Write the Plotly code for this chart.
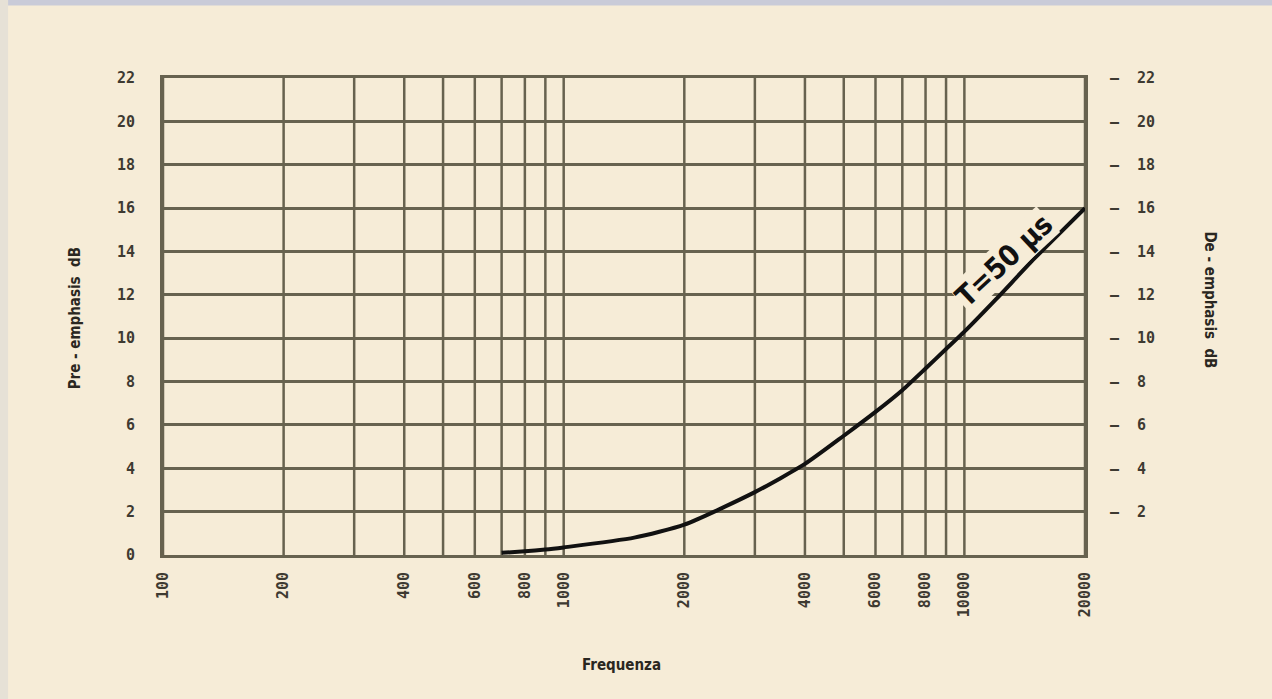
import plotly.graph_objects as go

# Data
freq_hz = [700, 800, 900, 1000, 1500, 2000, 3000, 4000, 5000, 6000, 7000, 8000, 9000, 10000, 12000, 15000, 20000]
pre_emphasis_db = [0.1, 0.17, 0.25, 0.35, 0.8, 1.4, 2.9, 4.2, 5.5, 6.6, 7.6, 8.6, 9.5, 10.3, 11.8, 13.7, 16.0]

x_grid = [100, 200, 300, 400, 500, 600, 700, 800, 900, 1000,
          2000, 3000, 4000, 5000, 6000, 7000, 8000, 9000, 10000, 20000]
x_tick_vals = [100, 200, 400, 600, 800, 1000, 2000, 4000, 6000, 8000, 10000, 20000]
x_tick_text = ["100", "200", "400", "600", "800", "1000", "2000", "4000", "6000", "8000", "10000", "20000"]
y_left_ticks = [0, 2, 4, 6, 8, 10, 12, 14, 16, 18, 20, 22]
y_right_ticks = [2, 4, 6, 8, 10, 12, 14, 16, 18, 20, 22]

BG = "#f6ecd7"
GRID = "#67624f"
INK = "#2a2721"
LABEL = "#3e3a31"
tick_font = dict(family="DejaVu Sans Mono, Liberation Mono, monospace", size=15, color=LABEL)
title_font = dict(family="DejaVu Sans Condensed, DejaVu Sans, sans-serif", size=15, color=INK)

fig = go.Figure()

fig.add_trace(go.Scatter(
    x=freq_hz, y=pre_emphasis_db, mode="lines",
    line=dict(color="#111111", width=4, shape="spline", smoothing=0.6),
    showlegend=False, hoverinfo="skip"))

# invisible trace on right axis
fig.add_trace(go.Scatter(x=[100, 20000], y=[0, 22], yaxis="y2", mode="lines",
                         line=dict(width=0), showlegend=False, hoverinfo="skip"))

# vertical grid lines
for xv in x_grid:
    fig.add_shape(type="line", xref="x", yref="y", x0=xv, x1=xv, y0=0, y1=22,
                  line=dict(color=GRID, width=2.5), layer="below")

fig.update_layout(
    width=1272, height=699,
    margin=dict(l=163, r=187, t=78, b=144),
    paper_bgcolor=BG, plot_bgcolor=BG,
    xaxis=dict(type="log", range=[2, 4.30103], tickvals=x_tick_vals,
               ticktext=["<b>%s</b>" % t for t in x_tick_text],
               tickangle=-90, tickfont=tick_font, showgrid=False, zeroline=False,
               showline=True, linecolor=GRID, linewidth=3, mirror=True,
               ticks="", ticklabelstandoff=8),
    yaxis=dict(range=[0, 22], tickvals=y_left_ticks,
               ticktext=["<b>%d</b>" % v for v in y_left_ticks], tickfont=tick_font,
               showgrid=True, gridcolor=GRID, gridwidth=2.5, zeroline=False,
               showline=True, linecolor=GRID, linewidth=3, mirror=True,
               ticks="", ticklabelstandoff=22),
    yaxis2=dict(range=[0, 22], overlaying="y", side="right", tickvals=y_right_ticks,
                ticktext=["<b>–  %d</b>" % v for v in y_right_ticks],
                tickfont=tick_font, showgrid=False, zeroline=False, showline=False,
                ticks="", ticklabelstandoff=24),
    showlegend=False,
)

# axis titles
fig.add_annotation(text="<b>Pre - emphasis  dB</b>", xref="paper", yref="paper",
                   x=-0.095, y=0.497, textangle=-90, showarrow=False,
                   font=title_font, xanchor="center", yanchor="middle")
fig.add_annotation(text="<b>De - emphasis  dB</b>", xref="paper", yref="paper",
                   x=1.136, y=0.535, textangle=90, showarrow=False,
                   font=title_font, xanchor="center", yanchor="middle")
fig.add_annotation(text="<b>Frequenza</b>", xref="paper", yref="paper",
                   x=0.497, y=-0.231, showarrow=False, font=title_font,
                   xanchor="center", yanchor="middle")

# curve label
fig.add_annotation(text="<b>T=50 µs</b>", xref="x", yref="y",
                   x=4.10, y=13.6, textangle=-43, showarrow=False,
                   font=dict(family="DejaVu Sans Condensed, DejaVu Sans, sans-serif", size=29, color="#111111"),
                   bgcolor=BG, borderpad=0)

# top strip and left edge tint
fig.add_shape(type="rect", xref="paper", yref="paper", x0=-0.2, x1=1.3, y0=1.152, y1=1.2,
              fillcolor="#c9cbd8", line=dict(width=0), layer="below")
fig.add_shape(type="rect", xref="paper", yref="paper", x0=-0.2, x1=-0.168, y0=-0.4, y1=1.2,
              fillcolor="#e6e1d6", line=dict(width=0), layer="below")

fig.write_html("out.html", config={"displayModeBar": False},
               post_script="document.body.style.margin='0';document.body.style.background='%s';" % BG)
